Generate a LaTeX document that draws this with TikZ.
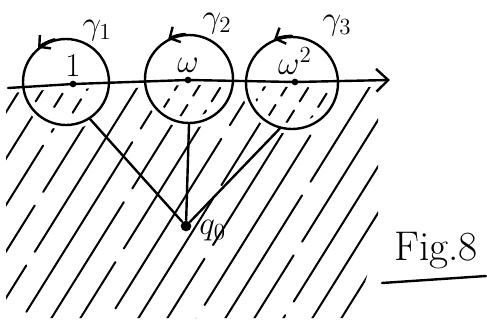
\documentclass[tikz,border=0pt]{standalone}
\usetikzlibrary{arrows.meta,positioning}

\tikzset{every picture/.style={line width=0.75pt}}
\tikzset{
  ink/.style={line width=1.8pt, line cap=round, line join=round},
  hatch/.style={line width=1.5pt, line cap=round},
  dot/.style={circle, fill, inner sep=0pt, minimum size=5pt},
  bigdot/.style={circle, fill, inner sep=0pt, minimum size=8pt},
  loopc/.style={circle, draw, line width=1.8pt, inner sep=0pt},
  lbl/.style={font=\huge, scale=1.2, inner sep=1pt},
  barb/.style={ink, -{Straight Barb[length=6pt,width=13pt]}},
}

\begin{document}
\begin{tikzpicture}[x=0.75pt,y=0.75pt,yscale=-1,xscale=1]
    \useasboundingbox (0,0) rectangle (487,322);
    %Hatching outside the circles
    \begin{scope}
      \clip (6,93) -- (73,90) -- (188,86) -- (295,88) -- (378,87) -- (378,240) -- (354,318) -- (6,318) -- cycle;
      \begin{scope}[even odd rule]
        \clip (0,0) rectangle (487,322)
          (66,82) circle [radius=48] (189,79) circle [radius=49] (292,83) circle [radius=51];
        \foreach \x [count=\i] in {-212,-183,...,390}
          \draw[hatch, dash pattern=on 150pt off 12pt, dash phase=\i*53pt] (\x,322) -- ++(201,-322);
      \end{scope}
    \end{scope}
    %Hatching inside the circles
    \begin{scope}
      \clip (0,92) -- (73,89) -- (188,85) -- (295,87) -- (400,86) -- (400,322) -- (0,322) -- cycle;
      \clip (66,82) circle [radius=37] (189,79) circle [radius=38] (292,83) circle [radius=40];
      \foreach \x [count=\i] in {-190,-168,...,390}
        \draw[hatch, dash pattern=on 12pt off 8pt, dash phase=\i*5pt] (\x,322) -- ++(201,-322);
    \end{scope}
    %Points on the axis
    \node[dot] (p1) at (73,84) {};
    \node[dot] (p2) at (188,80) {};
    \node[dot] (p3) at (295,82) {};
    \node[lbl, above=1pt of p1] (l1) {$1$};
    \node[lbl, above=1pt of p2] (l2) {$\omega$};
    \node[lbl, above=1pt of p3] (l3) {$\omega^2$};
    %Axis
    \coordinate (ax0) at (8,88);
    \coordinate (ax1) at (390,80);
    \draw[ink, -{Straight Barb[length=9pt,width=17pt]}] (ax0) -- (p1.center) -- (p2.center) -- (p3.center) -- (ax1);
    %Circles
    \node[loopc, minimum size=64.5pt] (c1) at (66,82) {};
    \node[loopc, minimum size=66pt] (c2) at (189,79) {};
    \node[loopc, minimum size=69pt] (c3) at (292,83) {};
    \draw[barb] (c1.105) arc [start angle=-105, end angle=-130, radius=43];
    \draw[barb] (c2.95) arc [start angle=-95, end angle=-118, radius=44];
    \draw[barb] (c3.90) arc [start angle=-90, end angle=-113, radius=46];
    \node[lbl] (g1) at (97,31) {$\gamma_1$};
    \node[lbl] (g2) at (217,24) {$\gamma_2$};
    \node[lbl] (g3) at (337,26) {$\gamma_3$};
    %Base point and connectors
    \node[bigdot] (q0) at (186,226) {};
    \node[lbl, right=4pt of q0, yshift=-3pt] (lq) {$q_0$};
    \draw[ink] (q0) -- (c1.-57);
    \draw[ink] (q0) -- (c2.-90);
    \draw[ink] (q0) -- (c3.-105);
    %Caption
    \node[font=\huge, scale=1.5] (fig) at (436,251) {Fig.8};
    \coordinate (ul0) at (382,283);
    \coordinate (ul1) at (486,276);
    \draw[ink] (ul0) -- (ul1);
\end{tikzpicture}
\end{document}
